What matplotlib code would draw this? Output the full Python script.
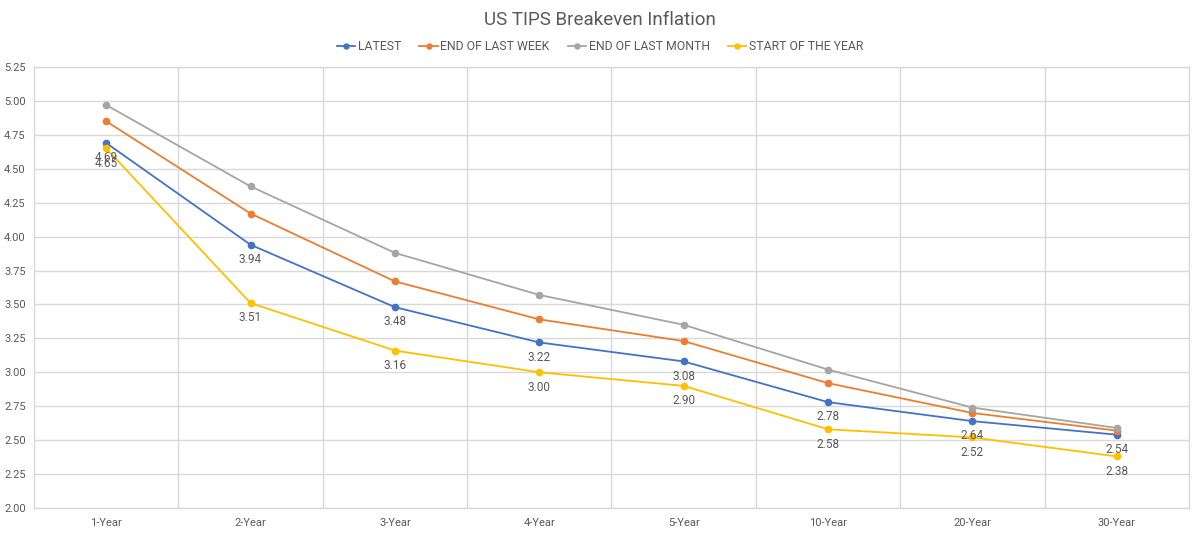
import matplotlib.pyplot as plt
from matplotlib.ticker import MultipleLocator, FixedLocator

plt.rcParams["font.family"] = ["Roboto", "DejaVu Sans"]

tenors = ["1-Year", "2-Year", "3-Year", "4-Year", "5-Year", "10-Year", "20-Year", "30-Year"]
latest = [4.69, 3.94, 3.48, 3.22, 3.08, 2.78, 2.64, 2.54]
last_week = [4.85, 4.17, 3.67, 3.39, 3.23, 2.92, 2.70, 2.57]
last_month = [4.97, 4.37, 3.88, 3.57, 3.35, 3.02, 2.74, 2.59]
start_year = [4.65, 3.51, 3.16, 3.00, 2.90, 2.58, 2.52, 2.38]

TEXT = "#595959"
GRID = "#D9D9D9"

fig = plt.figure(figsize=(12, 5.35), dpi=100)
ax = fig.add_axes([0.0283, 0.0505, 0.9625, 0.8243])

x = range(len(tenors))
series = [
    ("LATEST", latest, "#4472C4", True),
    ("END OF LAST WEEK", last_week, "#ED7D31", False),
    ("END OF LAST MONTH", last_month, "#A5A5A5", False),
    ("START OF THE YEAR", start_year, "#FFC000", True),
]
for name, vals, col, labelled in series:
    ax.plot(x, vals, color=col, lw=1.3, marker="o", ms=4.5, label=name, zorder=3)
    if labelled:
        for xi, v in zip(x, vals):
            ax.annotate(f"{v:.2f}", (xi, v), xytext=(0, -6), textcoords="offset points",
                        ha="center", va="top", fontsize=8.5, color=TEXT, zorder=4)

ax.set_xlim(-0.5, len(tenors) - 0.5)
ax.set_ylim(2.0, 5.25)
ax.yaxis.set_major_locator(MultipleLocator(0.25))
ax.yaxis.set_major_formatter(plt.FuncFormatter(lambda v, p: f"{v:.2f}"))
ax.set_xticks(list(x))
ax.set_xticklabels(tenors)
ax.xaxis.set_minor_locator(FixedLocator([i + 0.5 for i in range(len(tenors) - 1)]))

ax.grid(axis="y", which="major", color=GRID, lw=1)
ax.grid(axis="x", which="minor", color=GRID, lw=1)
ax.set_axisbelow(True)
for s in ax.spines.values():
    s.set_color(GRID)
    s.set_linewidth(1)
ax.tick_params(which="both", length=0, colors=TEXT, labelsize=8)
ax.tick_params(axis="x", pad=7)
ax.tick_params(axis="y", pad=6)

fig.suptitle("US TIPS Breakeven Inflation", y=0.98, fontsize=13.5, color=TEXT)
fig.legend(loc="upper center", bbox_to_anchor=(0.5, 0.945), ncol=4, frameon=False,
           fontsize=8.8, labelcolor=TEXT, handlelength=1.5, handletextpad=0.2,
           columnspacing=1.5, markerscale=0.8)

fig.savefig("out.png", dpi=100)
